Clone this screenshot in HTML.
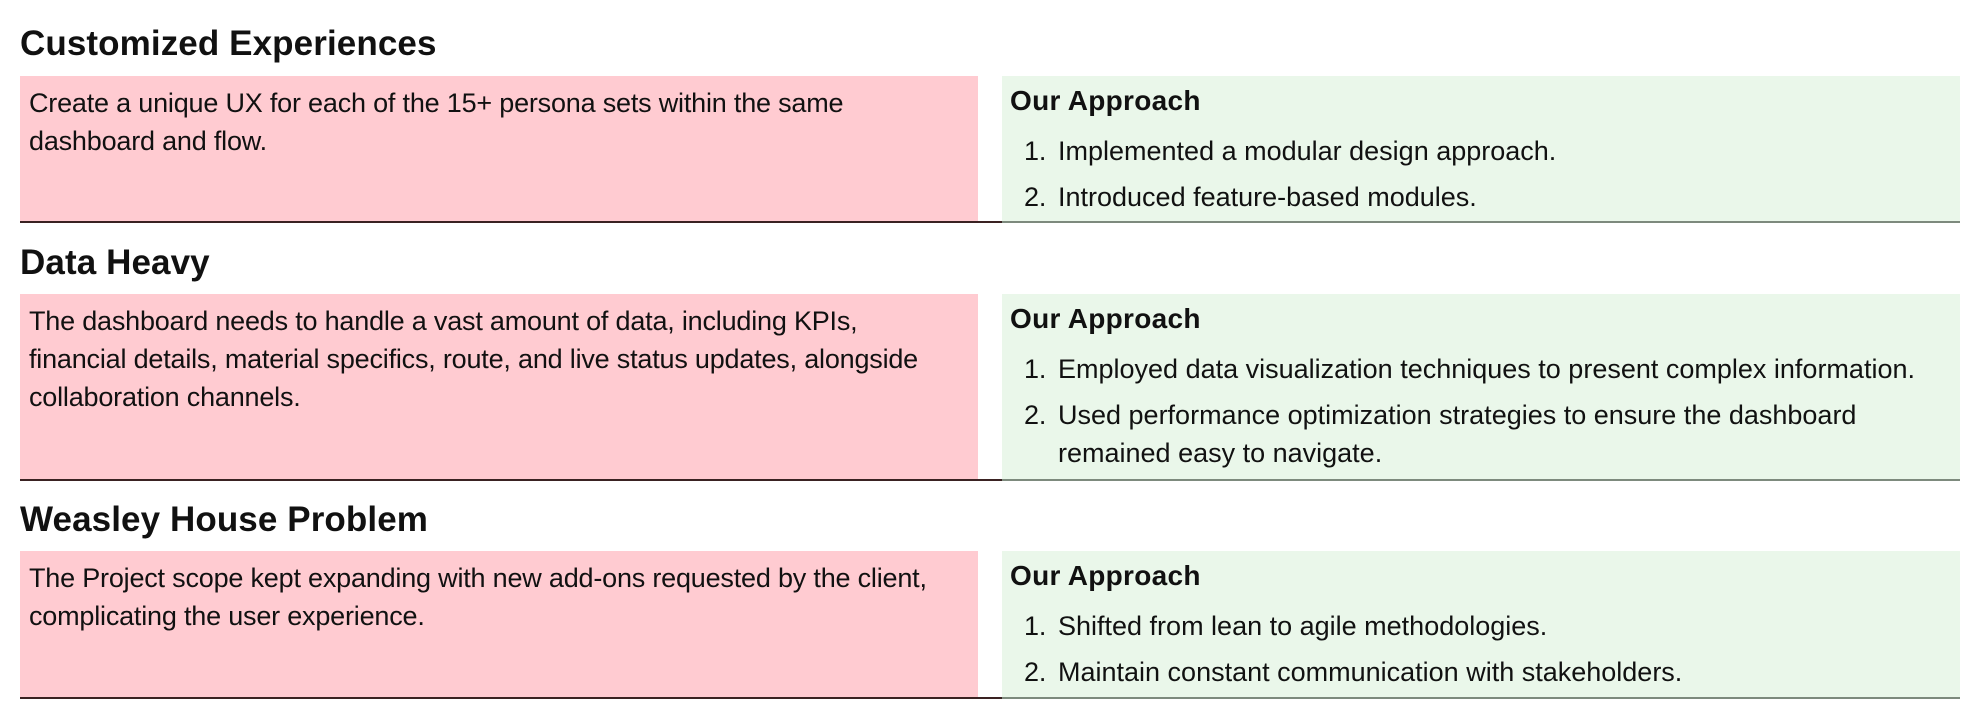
<!DOCTYPE html>
<html><head><meta charset="utf-8"><style>
body{margin:0;width:1980px;height:719px;background:#fff;position:relative;overflow:hidden;font-family:"Liberation Sans",sans-serif;color:#111}
.t{position:absolute;left:20px;font-weight:bold;font-size:35px;letter-spacing:0.1px;line-height:40px;white-space:nowrap}
.p{position:absolute;left:20px;width:958px;background:#ffcbd1}
.g{position:absolute;left:1002px;width:958px;background:#eaf7ea}
.l1{position:absolute;left:20px;width:982px;height:2px;background:#3a2222}
.l2{position:absolute;left:1002px;width:958px;height:2px;background:#7d8a7d}
.tx{position:absolute;font-size:27px;letter-spacing:-0.2px;line-height:38px;white-space:nowrap}
.it{letter-spacing:0px}
.h{position:absolute;font-size:28px;font-weight:bold;letter-spacing:0.3px;white-space:nowrap}
</style></head><body>

<div class="t" style="top:24px">Customized Experiences</div>
<div class="p" style="top:76px;height:146px"></div>
<div class="g" style="top:76px;height:146px"></div>
<div class="l1" style="top:221px"></div><div class="l2" style="top:221px"></div>
<div class="tx" style="left:29px;top:84px">Create a unique UX for each of the 15+ persona sets within the same<br>dashboard and flow.</div>
<div class="h" style="left:1010px;top:85px">Our Approach</div>
<div class="tx" style="left:1024px;top:132px">1.</div><div class="tx it" style="left:1058px;top:132px">Implemented a modular design approach.</div>
<div class="tx" style="left:1024px;top:178px">2.</div><div class="tx it" style="left:1058px;top:178px">Introduced feature-based modules.</div>

<div class="t" style="top:243px">Data Heavy</div>
<div class="p" style="top:294px;height:186px"></div>
<div class="g" style="top:294px;height:186px"></div>
<div class="l1" style="top:479px"></div><div class="l2" style="top:479px"></div>
<div class="tx" style="left:29px;top:302px">The dashboard needs to handle a vast amount of data, including KPIs,<br>financial details, material specifics, route, and live status updates, alongside<br>collaboration channels.</div>
<div class="h" style="left:1010px;top:303px">Our Approach</div>
<div class="tx" style="left:1024px;top:350px">1.</div><div class="tx it" style="left:1058px;top:350px">Employed data visualization techniques to present complex information.</div>
<div class="tx" style="left:1024px;top:396px">2.</div><div class="tx it" style="left:1058px;top:396px">Used performance optimization strategies to ensure the dashboard<br>remained easy to navigate.</div>

<div class="t" style="top:500px">Weasley House Problem</div>
<div class="p" style="top:551px;height:146px"></div>
<div class="g" style="top:551px;height:146px"></div>
<div class="l1" style="top:697px"></div><div class="l2" style="top:697px"></div>
<div class="tx" style="left:29px;top:559px">The Project scope kept expanding with new add-ons requested by the client,<br>complicating the user experience.</div>
<div class="h" style="left:1010px;top:560px">Our Approach</div>
<div class="tx" style="left:1024px;top:607px">1.</div><div class="tx it" style="left:1058px;top:607px">Shifted from lean to agile methodologies.</div>
<div class="tx" style="left:1024px;top:653px">2.</div><div class="tx it" style="left:1058px;top:653px">Maintain constant communication with stakeholders.</div>

</body></html>
